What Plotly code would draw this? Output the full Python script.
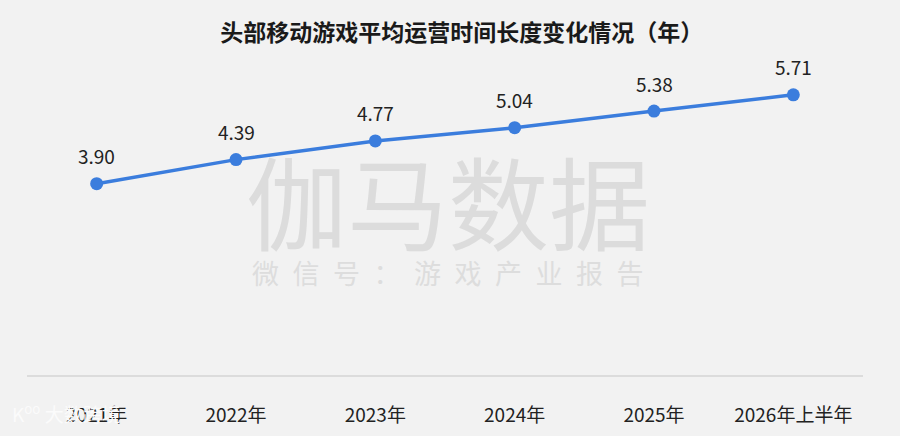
import plotly.graph_objects as go

# data
years = ["2021年", "2022年", "2023年", "2024年", "2025年", "2026年上半年"]
avg_years = [3.90, 4.39, 4.77, 5.04, 5.38, 5.71]

font_name = "Noto Sans CJK SC"

fig = go.Figure()
fig.add_trace(go.Scatter(
    x=years, y=avg_years,
    mode="lines+markers",
    line=dict(color="#3b7ddd", width=3.5),
    marker=dict(color="#3b7ddd", size=13),
    hoverinfo="skip",
))

# value labels above each point
for yr, v in zip(years, avg_years):
    fig.add_annotation(x=yr, y=v, text="{:.2f}".format(v), showarrow=False,
                       yshift=28, yanchor="middle",
                       font=dict(family=font_name, size=19, color="#222222"))

# watermarks
fig.add_annotation(text="伽马数据", x=0.504, y=0.56, xref="paper", yref="paper",
                   yanchor="middle", showarrow=False,
                   font=dict(family=font_name, size=101, color="#dcdcdc"))
fig.add_annotation(text="\u2002".join("微信号：游戏产业报告"), x=0.504, y=0.328, xref="paper",
                   yref="paper", yanchor="middle", showarrow=False,
                   font=dict(family=font_name, size=27, color="#dddddd"))
fig.add_annotation(text="K<sup>oo</sup> 大数跨境", x=-0.02, y=-0.122, xref="paper", yref="paper",
                   xanchor="left", yanchor="middle", showarrow=False,
                   font=dict(family=font_name, size=19, color="#fbfbfb"))

fig.update_layout(
    width=900, height=436,
    paper_bgcolor="#f2f2f2", plot_bgcolor="#f2f2f2",
    margin=dict(l=27, r=37, t=61, b=61, autoexpand=False),
    showlegend=False,
    title=dict(text="<b>头部移动游戏平均运营时间长度变化情况（年）</b>",
               x=0.513, xanchor="center", y=0.925, yanchor="middle",
               font=dict(family=font_name, size=23, color="#1a1a1a")),
)
fig.update_xaxes(range=[-0.5, 5.5], automargin=False,
                 showgrid=False, showline=True, linecolor="#dcdcdc", linewidth=2,
                 ticks="", ticklabelstandoff=22,
                 tickfont=dict(family=font_name, size=19, color="#222222"))
fig.update_yaxes(range=[0, 6.4], visible=False)

fig.write_html("out.html", config={"displayModeBar": False},
               post_script="document.body.style.margin='0';")
